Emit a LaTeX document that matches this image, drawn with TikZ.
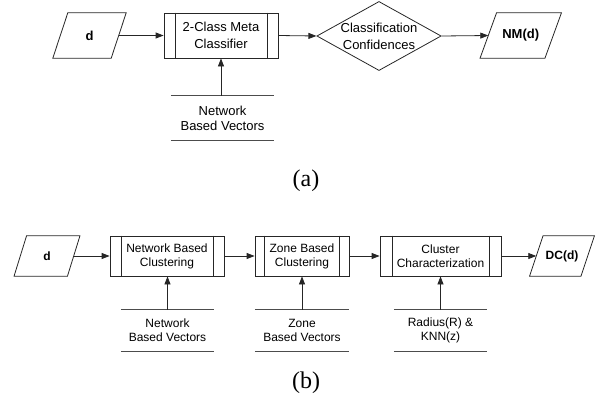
\documentclass[tikz,border=0pt]{standalone}
\usepackage{fontspec}
\setmainfont{Liberation Sans}
\newfontfamily\capfont{Liberation Serif}
\usetikzlibrary{arrows.meta,shapes.geometric}
\tikzset{
  lc/.style={draw=black!85, line width=0.8pt},
  box/.style={rectangle, lc, inner sep=0pt, align=center},
  iobox/.style={rectangle, draw=none, inner sep=0pt, align=center},
  dec/.style={diamond, lc, inner sep=0pt, align=center, aspect=1.8},
  lbl/.style={rectangle, draw=none, inner sep=0pt, align=center},
  arr/.style={lc, -{Triangle[length=8pt,width=6pt]}},
  rule/.style={draw=black!70, line width=1.1pt},
  topf/.style={font=\fontsize{13}{17}\selectfont},
  botf/.style={font=\fontsize{12}{14}\selectfont},
}
\begin{document}
\begin{tikzpicture}[x=1pt,y=-1pt]
\useasboundingbox (0,0) rectangle (600,402);
% ---------- (a) ----------
\node[iobox, topf, minimum width=58pt, minimum height=45pt] (dA) at (89.5,35.5) {\bfseries d};
\draw[lc] ([xshift=7.5pt]dA.north west) -- ([xshift=7.5pt]dA.north east) -- ([xshift=-7.5pt]dA.south east) -- ([xshift=-7.5pt]dA.south west) -- cycle;
\node[box, topf, minimum width=114pt, minimum height=45pt] (boxA) at (221,35.5) {2-Class Meta\\Classifier};
\draw[lc] ([xshift=12pt]boxA.north west) -- ([xshift=12pt]boxA.south west);
\draw[lc] ([xshift=-11pt]boxA.north east) -- ([xshift=-11pt]boxA.south east);
\node[dec, topf, minimum width=122pt, minimum height=68pt] (decA) at (379,36) {Classification\\Confidences};
\node[iobox, topf, minimum width=64.5pt, minimum height=45pt] (nm) at (520.75,35.5) {\bfseries NM(d)};
\draw[lc] ([xshift=8.25pt]nm.north west) -- ([xshift=8.25pt]nm.north east) -- ([xshift=-8.25pt]nm.south east) -- ([xshift=-8.25pt]nm.south west) -- cycle;
\node[lbl, font=\fontsize{13}{15}\selectfont, minimum width=103pt, minimum height=44pt] (lblA) at (222.5,118) {Network\\Based Vectors};
\draw[rule] (lblA.north west) -- (lblA.north east);
\draw[rule] (lblA.south west) -- (lblA.south east);
\draw[arr] (dA.east) -- (boxA.west);
\draw[arr] (boxA.east) -- (decA.west);
\draw[arr] (decA.east) -- (nm.west);
\draw[arr] (lblA.north -| boxA.south) -- (boxA.south);
\node[lbl, font=\capfont\fontsize{24}{26}\selectfont] (capA) at (306,181) {(a)};
% ---------- (b) ----------
\node[iobox, botf, minimum width=53pt, minimum height=40pt] (dB) at (47,256) {\bfseries d};
\draw[lc] ([xshift=6.25pt]dB.north west) -- ([xshift=6.25pt]dB.north east) -- ([xshift=-6.25pt]dB.south east) -- ([xshift=-6.25pt]dB.south west) -- cycle;
\node[box, botf, minimum width=114pt, minimum height=40pt] (b1) at (167,256) {Network Based\\Clustering};
\draw[lc] ([xshift=12pt]b1.north west) -- ([xshift=12pt]b1.south west);
\draw[lc] ([xshift=-11pt]b1.north east) -- ([xshift=-11pt]b1.south east);
\node[box, botf, minimum width=94pt, minimum height=40pt] (b2) at (302,256) {Zone Based\\Clustering};
\draw[lc] ([xshift=10pt]b2.north west) -- ([xshift=10pt]b2.south west);
\draw[lc] ([xshift=-10pt]b2.north east) -- ([xshift=-10pt]b2.south east);
\node[box, botf, minimum width=121pt, minimum height=40pt] (b3) at (440.5,256) {Cluster\\Characterization};
\draw[lc] ([xshift=13pt]b3.north west) -- ([xshift=13pt]b3.south west);
\draw[lc] ([xshift=-12pt]b3.north east) -- ([xshift=-12pt]b3.south east);
\node[iobox, botf, minimum width=51pt, minimum height=40pt] (dc) at (562,256) {\bfseries DC(d)};
\draw[lc] ([xshift=6.75pt]dc.north west) -- ([xshift=6.75pt]dc.north east) -- ([xshift=-6.75pt]dc.south east) -- ([xshift=-6.75pt]dc.south west) -- cycle;
\node[lbl, botf, minimum width=93pt, minimum height=41pt] (l1) at (167.5,330.5) {Network\\Based Vectors};
\node[lbl, botf, minimum width=94pt, minimum height=41pt] (l2) at (302,330.5) {Zone\\Based Vectors};
\node[lbl, botf, minimum width=93pt, minimum height=41pt] (l3) at (440.5,330.5) {Radius(R) \&\\KNN(z)};
\foreach \n in {l1,l2,l3}{
  \draw[rule] (\n.north west) -- (\n.north east);
  \draw[rule] (\n.south west) -- (\n.south east);
}
\draw[arr] (dB.east) -- (b1.west);
\draw[arr] (b1.east) -- (b2.west);
\draw[arr] (b2.east) -- (b3.west);
\draw[arr] (b3.east) -- (dc.west);
\draw[arr] (l1.north) -- (l1.north |- b1.south);
\draw[arr] (l2.north) -- (l2.north |- b2.south);
\draw[arr] (l3.north) -- (l3.north |- b3.south);
\node[lbl, font=\capfont\fontsize{24}{26}\selectfont] (capB) at (306,383) {(b)};
\end{tikzpicture}
\end{document}
